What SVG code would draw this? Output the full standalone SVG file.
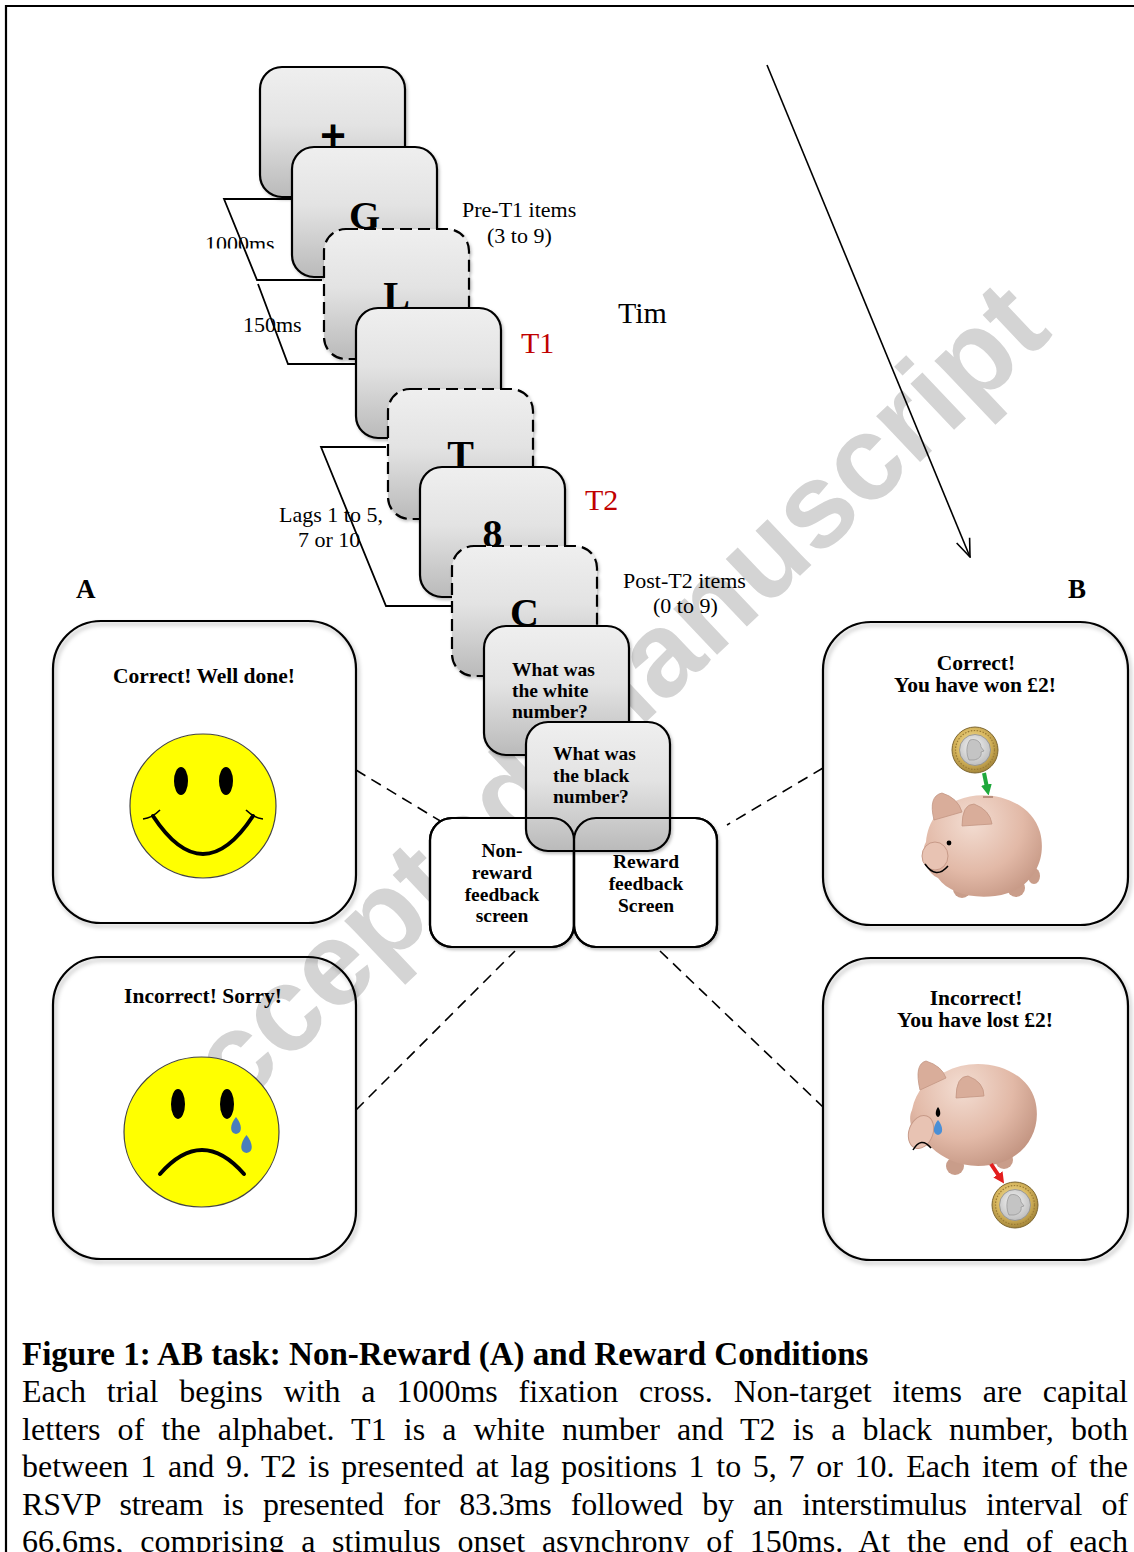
<svg xmlns="http://www.w3.org/2000/svg" xmlns:xlink="http://www.w3.org/1999/xlink" width="1134" height="1552" viewBox="0 0 1134 1552">
<style>
.serif{font-family:"Liberation Serif","Times New Roman",serif}
.lbl{font-size:22px;fill:#000}
.b{font-weight:bold}
.box{stroke:#000;stroke-width:2.2;fill:url(#boxg)}
.dsh{stroke-dasharray:12 6}
.panel{fill:none;stroke:#000;stroke-width:2.2;filter:url(#sh)}
.conn{fill:none;stroke:#000;stroke-width:1.6;stroke-dasharray:11 7}
.brk{fill:none;stroke:#000;stroke-width:1.8}
.letter{font-size:40px;font-weight:bold;text-anchor:middle}
.q{font-size:19.5px;font-weight:bold}
.qc{font-size:19.5px;font-weight:bold;text-anchor:middle}
.pt{font-size:21.5px;font-weight:bold;text-anchor:middle}
.red{font-size:30px;fill:#c00000}
.body{font-size:32px}
.ear{fill:#d9ad9a;stroke:#c39683;stroke-width:0.8}
.foot{fill:#c99d8a}
</style>
<defs>
<linearGradient id="boxg" x1="0" y1="0" x2="0" y2="1">
<stop offset="0" stop-color="#efefef"/>
<stop offset="0.45" stop-color="#e3e3e3"/>
<stop offset="1" stop-color="#bababa"/>
</linearGradient>
<radialGradient id="goldg" cx="0.45" cy="0.4" r="0.6">
<stop offset="0" stop-color="#f4e5ab"/>
<stop offset="0.6" stop-color="#d8b75e"/>
<stop offset="1" stop-color="#a4863a"/>
</radialGradient>
<radialGradient id="silverg" cx="0.45" cy="0.4" r="0.6">
<stop offset="0" stop-color="#f6f6f6"/>
<stop offset="1" stop-color="#bfbfbf"/>
</radialGradient>
<radialGradient id="pinkWon" gradientUnits="userSpaceOnUse" cx="972" cy="822" r="85">
<stop offset="0" stop-color="#f3ddd2"/>
<stop offset="0.6" stop-color="#e2b9a7"/>
<stop offset="1" stop-color="#c49683"/>
</radialGradient>
<radialGradient id="pinkLost" gradientUnits="userSpaceOnUse" cx="962" cy="1088" r="85">
<stop offset="0" stop-color="#f3ddd2"/>
<stop offset="0.6" stop-color="#e2b9a7"/>
<stop offset="1" stop-color="#c49683"/>
</radialGradient>
<filter id="sh" x="-10%" y="-10%" width="125%" height="125%">
<feDropShadow dx="2" dy="3" stdDeviation="2" flood-color="#000" flood-opacity="0.3"/>
</filter>
<filter id="sh2" x="-10%" y="-10%" width="125%" height="125%">
<feDropShadow dx="1.5" dy="2" stdDeviation="1.5" flood-color="#000" flood-opacity="0.25"/>
</filter>
<marker id="openhead" viewBox="0 0 20 16" refX="19" refY="8" markerWidth="20" markerHeight="16" markerUnits="userSpaceOnUse" orient="auto">
<path d="M1,1 L19,8 L1,15" fill="none" stroke="#000" stroke-width="1.6"/>
</marker>
<marker id="greenhead" viewBox="0 0 10 10" refX="5" refY="5" markerWidth="11" markerHeight="11" markerUnits="userSpaceOnUse" orient="auto">
<path d="M0,0 L10,5 L0,10 Z" fill="#1fa83c"/>
</marker>
<marker id="redhead" viewBox="0 0 10 10" refX="5" refY="5" markerWidth="11" markerHeight="11" markerUnits="userSpaceOnUse" orient="auto">
<path d="M0,0 L10,5 L0,10 Z" fill="#e31e1e"/>
</marker>
<clipPath id="clip1000"><rect x="190" y="220" width="100" height="28.5"/></clipPath>
<g id="coin">
<circle r="23" fill="url(#goldg)" stroke="#7d6630" stroke-width="1"/>
<circle r="19.5" fill="none" stroke="#9a7b35" stroke-width="1.2" stroke-dasharray="1.5 1.5"/>
<circle r="15.5" fill="url(#silverg)" stroke="#8d8d8d" stroke-width="0.8"/>
<path d="M-5,-10 C1,-12 6,-8 6,-3 L9,1 L6,2 C7,6 4,9 -1,10 L-6,10 C-9,4 -9,-5 -5,-10 Z" fill="#c4c4c4" stroke="#8a8a8a" stroke-width="0.6"/>
</g>
</defs>

<rect x="0" y="0" width="1134" height="1552" fill="#fff"/>

<g id="page-border">
<line x1="5" y1="6" x2="1134" y2="6" stroke="#000" stroke-width="2.2"/>
<line x1="6" y1="5" x2="6" y2="1552" stroke="#000" stroke-width="2.2"/>
</g>

<g id="watermark">
<text x="174" y="1170" transform="rotate(-43.5 174 1170)" font-family="'Liberation Sans',Arial,sans-serif" font-weight="bold" font-size="120" fill="#d4d4d4">Accepted Manuscript</text>
</g>

<g id="panel-correct">
<rect class="panel" x="53" y="621" width="303" height="302" rx="48"/>
<text class="serif pt" x="204" y="683">Correct! Well done!</text>
<ellipse cx="203" cy="806" rx="73" ry="72" fill="#ffff00" stroke="#444" stroke-width="1.2"/>
<ellipse cx="181" cy="781" rx="7" ry="14" fill="#000"/>
<ellipse cx="226" cy="781" rx="7" ry="14" fill="#000"/>
<path d="M153,816 Q203,892 253,816" fill="none" stroke="#000" stroke-width="4" stroke-linecap="round"/>
<path d="M143,819 Q152,818 160,810 M246,810 Q254,818 263,819" fill="none" stroke="#000" stroke-width="1.6"/>
</g>

<g id="panel-sorry">
<rect class="panel" x="53" y="957" width="303" height="302" rx="48"/>
<text class="serif pt" x="203" y="1003">Incorrect! Sorry!</text>
<ellipse cx="201.5" cy="1132" rx="77.5" ry="75" fill="#ffff00" stroke="#444" stroke-width="1.2"/>
<ellipse cx="178" cy="1104" rx="7" ry="15" fill="#000"/>
<ellipse cx="227" cy="1104" rx="7" ry="15" fill="#000"/>
<path d="M236,1117 C242,1124 243,1133 236,1134 C229,1133 230,1124 236,1117 Z" fill="#4a7ebb"/>
<path d="M246.5,1135 C253,1143 254,1152 246.5,1153 C239,1152 240,1143 246.5,1135 Z" fill="#4a7ebb"/>
<path d="M160,1174 Q202,1126 244,1174" fill="none" stroke="#000" stroke-width="4" stroke-linecap="round"/>
</g>

<g id="panel-won">
<rect class="panel" x="823" y="622" width="305" height="303" rx="48"/>
<text class="serif pt" x="976" y="670">Correct!</text>
<text class="serif pt" x="975" y="692">You have won £2!</text>
<use href="#coin" x="975" y="750"/>
<line x1="984" y1="773" x2="987.5" y2="790" stroke="#1fa83c" stroke-width="4" marker-end="url(#greenhead)"/>
<ellipse class="foot" cx="962" cy="889" rx="9" ry="9"/>
<ellipse class="foot" cx="1016" cy="888" rx="9" ry="9"/>
<ellipse class="foot" cx="1034" cy="876" rx="6" ry="8"/>
<path d="M958,800 C985,788 1030,798 1040,832 C1048,862 1030,892 995,896 C970,899 948,892 938,878 C925,872 920,852 926,842 C928,820 940,806 958,800 Z" fill="url(#pinkWon)"/>
<path d="M934,820 Q928,796 942,793 Q958,798 962,812 Z" class="ear"/>
<path d="M962,826 Q962,804 974,804 Q990,810 992,824 Z" class="ear"/>
<ellipse cx="935" cy="856" rx="13" ry="14" fill="#e8c3b3" stroke="#c79a88" stroke-width="1"/>
<circle cx="949" cy="843" r="2.4" fill="#000"/>
<path d="M925,864 Q936,880 948,866" fill="none" stroke="#000" stroke-width="1.5"/>
<path d="M983,797 L993,797" stroke="#a87d6b" stroke-width="1.5"/>
</g>

<g id="panel-lost">
<rect class="panel" x="823" y="958" width="305" height="302" rx="48"/>
<text class="serif pt" x="976" y="1005">Incorrect!</text>
<text class="serif pt" x="975" y="1027">You have lost £2!</text>
<ellipse class="foot" cx="955" cy="1166" rx="9" ry="9"/>
<ellipse class="foot" cx="1004" cy="1160" rx="9" ry="9"/>
<path d="M945,1072 C975,1055 1025,1065 1035,1100 C1043,1130 1025,1160 990,1165 C965,1169 945,1160 932,1148 C915,1142 906,1122 912,1110 C916,1090 928,1078 945,1072 Z" fill="url(#pinkLost)"/>
<path d="M920,1090 Q914,1064 926,1061 Q942,1066 946,1078 Z" class="ear"/>
<path d="M956,1098 Q956,1076 968,1076 Q984,1082 984,1096 Z" class="ear"/>
<ellipse cx="921" cy="1132" rx="12" ry="17" fill="#e8c3b3" stroke="#c79a88" stroke-width="1" transform="rotate(20 921 1132)"/>
<path d="M938,1107 C941,1111 941,1116 938,1117 C935,1116 935,1111 938,1107 Z" fill="#000"/>
<path d="M938,1120 C943,1126 944,1134 938,1135 C932,1134 933,1126 938,1120 Z" fill="#4a8fd6"/>
<path d="M913,1150 Q921,1136 931,1148" fill="none" stroke="#000" stroke-width="1.5"/>
<line x1="991" y1="1164" x2="1001" y2="1179" stroke="#e31e1e" stroke-width="4" marker-end="url(#redhead)"/>
<use href="#coin" x="1015" y="1205"/>
</g>

<g id="connectors">
<line class="conn" x1="356" y1="770" x2="442" y2="822"/>
<line class="conn" x1="356" y1="1110" x2="515" y2="951"/>
<line class="conn" x1="823" y1="768" x2="727" y2="825"/>
<line class="conn" x1="660" y1="951" x2="823" y2="1107"/>
<line x1="767" y1="65" x2="970" y2="557" stroke="#000" stroke-width="1.6" marker-end="url(#openhead)"/>
<polyline class="brk" points="291,199 224,199 257,280 322,280"/>
<polyline class="brk" points="258,284 288,364 355,364"/>
<polyline class="brk" points="386,447 321,447 386,606 451,606"/>
</g>

<g id="labels" class="serif">
<text class="lbl" x="205" y="251" clip-path="url(#clip1000)">1000ms</text>
<text class="lbl" x="243" y="332">150ms</text>
<text class="lbl" x="279" y="522">Lags 1 to 5,</text>
<text class="lbl" x="298" y="547">7 or 10</text>
<text class="lbl" x="462" y="217">Pre-T1 items</text>
<text class="lbl" x="487" y="243">(3 to 9)</text>
<text class="red" x="521" y="353">T1</text>
<text class="red" x="585" y="510">T2</text>
<text x="618" y="323" font-size="30">Tim</text>
<text class="lbl" x="623" y="588">Post-T2 items</text>
<text class="lbl" x="653" y="613">(0 to 9)</text>
<text x="76" y="598" font-size="27" font-weight="bold">A</text>
<text x="1068" y="598" font-size="27" font-weight="bold">B</text>
</g>

<g id="item-fixation" class="serif">
<rect class="box" x="260" y="67" width="145" height="130" rx="22" filter="url(#sh2)"/>
<text x="333" y="150" font-size="44" font-weight="bold" text-anchor="middle" stroke="#000" stroke-width="1.6">+</text>
</g>
<g id="item-G" class="serif">
<rect class="box" x="292" y="147" width="145" height="130" rx="22" filter="url(#sh2)"/>
<text class="letter" x="364.5" y="229">G</text>
</g>
<g id="item-L" class="serif">
<rect class="box dsh" x="324" y="229" width="145" height="130" rx="22" filter="url(#sh2)"/>
<text class="letter" x="396.5" y="309">L</text>
</g>
<g id="item-T1" class="serif">
<rect class="box" x="356" y="308" width="145" height="130" rx="22" filter="url(#sh2)"/>
</g>
<g id="item-T" class="serif">
<rect class="box dsh" x="388" y="389" width="145" height="130" rx="22" filter="url(#sh2)"/>
<text class="letter" x="460.5" y="468">T</text>
</g>
<g id="item-8" class="serif">
<rect class="box" x="420" y="467" width="145" height="130" rx="22" filter="url(#sh2)"/>
<text class="letter" x="492.5" y="547">8</text>
</g>
<g id="item-C" class="serif">
<rect class="box dsh" x="452" y="546" width="145" height="130" rx="22" filter="url(#sh2)"/>
<text class="letter" x="524.5" y="626">C</text>
</g>
<g id="q-white" class="serif">
<rect class="box" x="484" y="626" width="145" height="129" rx="22" filter="url(#sh2)"/>
<text class="q" x="512" y="676">What was</text>
<text class="q" x="512" y="697">the white</text>
<text class="q" x="512" y="718">number?</text>
</g>

<g id="feedback-nonreward" class="serif">
<rect x="430" y="818" width="144" height="129" rx="22" fill="#fff" stroke="#000" stroke-width="2.2" filter="url(#sh2)"/>
<text class="qc" x="502" y="857">Non-</text>
<text class="qc" x="502" y="879">reward</text>
<text class="qc" x="502" y="901">feedback</text>
<text class="qc" x="502" y="922">screen</text>
</g>
<g id="feedback-reward" class="serif">
<rect x="574" y="818" width="143" height="129" rx="22" fill="#fff" stroke="#000" stroke-width="2.2" filter="url(#sh2)"/>
<text class="qc" x="646" y="868">Reward</text>
<text class="qc" x="646" y="890">feedback</text>
<text class="qc" x="646" y="912">Screen</text>
</g>
<g id="q-black" class="serif">
<rect class="box" x="526" y="722" width="144" height="129" rx="22" filter="url(#sh2)"/>
<text class="q" x="553" y="760">What was</text>
<text class="q" x="553" y="782">the black</text>
<text class="q" x="553" y="803">number?</text>
<rect x="430" y="818" width="144" height="129" rx="22" fill="none" stroke="#000" stroke-width="2.2"/>
<rect x="574" y="818" width="143" height="129" rx="22" fill="none" stroke="#000" stroke-width="2.2"/>
</g>

<g id="caption" class="serif">
<text x="22" y="1365" font-size="33" font-weight="bold">Figure 1: AB task: Non-Reward (A) and Reward Conditions</text>
<text class="body" x="22" y="1402" word-spacing="12.8" textLength="1106" lengthAdjust="spacing">Each trial begins with a 1000ms fixation cross. Non-target items are capital</text>
<text class="body" x="22" y="1439.5" word-spacing="9" textLength="1106" lengthAdjust="spacing">letters of the alphabet. T1 is a white number and T2 is a black number, both</text>
<text class="body" x="22" y="1477" word-spacing="3.7" textLength="1106" lengthAdjust="spacing">between 1 and 9. T2 is presented at lag positions 1 to 5, 7 or 10. Each item of the</text>
<text class="body" x="22" y="1514.5" word-spacing="11.5" textLength="1106" lengthAdjust="spacing">RSVP stream is presented for 83.3ms followed by an interstimulus interval of</text>
<text class="body" x="22" y="1552" word-spacing="8.7" textLength="1106" lengthAdjust="spacing">66.6ms, comprising a stimulus onset asynchrony of 150ms. At the end of each</text>
</g>
</svg>
